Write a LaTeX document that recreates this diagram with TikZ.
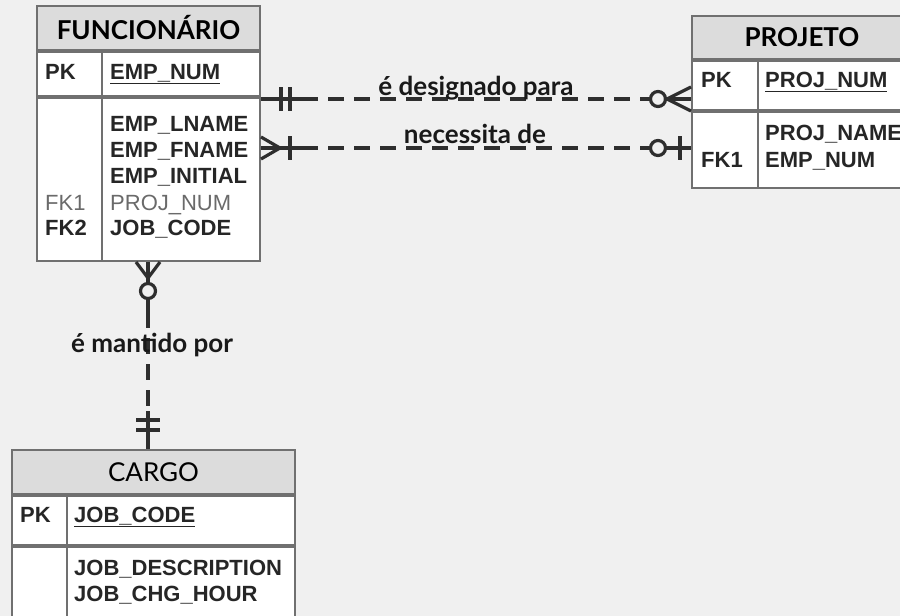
\documentclass[tikz,border=0pt]{standalone}
\usepackage{fontspec}
\setmainfont{Liberation Sans}
\newfontfamily\titlefont{Lato}
\usetikzlibrary{calc}

\definecolor{bggray}{HTML}{F0F0F0}
\definecolor{headgray}{HTML}{DCDCDC}
\definecolor{boxgray}{HTML}{707070}
\definecolor{linegray}{HTML}{2E2E2E}
\definecolor{fkgray}{HTML}{6A6A6A}

\tikzset{
  tabhead/.style={draw=boxgray, line width=2pt, fill=headgray, anchor=north west, inner sep=0pt,
    font=\titlefont\fontsize{26}{26}\selectfont},
  tabrow/.style={draw=boxgray, line width=2pt, fill=white, anchor=north west, inner sep=0pt},
  attr/.style={font=\bfseries\fontsize{22}{22}\selectfont, text=black!85, anchor=base west, inner sep=0pt},
  attrn/.style={font=\fontsize{22}{22}\selectfont, text=fkgray, anchor=base west, inner sep=0pt},
  rel/.style={draw=linegray, line width=3.6pt, dash pattern=on 16pt off 10pt},
  crow/.style={draw=linegray, line width=3.2pt},
  rlab/.style={font=\titlefont\bfseries\fontsize{26}{26}\selectfont, text=black!90, anchor=base, inner sep=0pt}
}

\begin{document}
\begin{tikzpicture}[x=1pt,y=-1pt]

  % Background
  \fill[bggray] (0,0) rectangle (900,616);
  \useasboundingbox (0,0) rectangle (900,616);
  \clip (0,0) rectangle (900,616);

  % FUNCIONARIO
  \node[tabhead, minimum width=223pt, minimum height=44pt] (fhead) at (36,5) {\bfseries FUNCIONÁRIO};
  \node[tabrow, minimum width=223pt, minimum height=44pt] (fpk) at (fhead.south west) {};
  \node[tabrow, minimum width=223pt, minimum height=163pt] (fbody) at (fpk.south west) {};
  \draw[boxgray, line width=2pt] (fpk.north -| 102,0) -- (fbody.south -| 102,0);
  \node[attr] (fpkkey) at (45,79) {PK};
  \node[attr] (fempnum) at (110,79) {\underline{EMP\_NUM}};
  \node[attr] (flname) at (110,131) {EMP\_LNAME};
  \node[attr] (ffname) at (110,157) {EMP\_FNAME};
  \node[attr] (finitial) at (110,183) {EMP\_INITIAL};
  \node[attrn] (fprojnum) at (110,210) {PROJ\_NUM};
  \node[attr] (fjobcode) at (110,235) {JOB\_CODE};
  \node[attrn] (ffk1) at (45,210) {FK1};
  \node[attr] (ffk2) at (45,235) {FK2};

  % PROJETO
  \node[tabhead, minimum width=220pt, minimum height=43pt] (phead) at (691,15) {\bfseries PROJETO};
  \node[tabrow, minimum width=220pt, minimum height=49pt] (ppk) at (phead.south west) {};
  \node[tabrow, minimum width=220pt, minimum height=76pt] (pbody) at (ppk.south west) {};
  \draw[boxgray, line width=2pt] (ppk.north -| 758,0) -- (pbody.south -| 758,0);
  \node[attr] (ppkkey) at (701,87) {PK};
  \node[attr] (pprojnum) at (765,87) {\underline{PROJ\_NUM}};
  \node[attr] (pprojname) at (765,140) {PROJ\_NAME};
  \node[attr] (pempnum) at (765,167) {EMP\_NUM};
  \node[attr] (pfk1) at (701,167) {FK1};

  % CARGO
  \node[tabhead, minimum width=283pt, minimum height=44pt] (chead) at (11,449) {CARGO};
  \node[tabrow, minimum width=283pt, minimum height=49pt] (cpk) at (chead.south west) {};
  \node[tabrow, minimum width=283pt, minimum height=100pt] (cbody) at (cpk.south west) {};
  \draw[boxgray, line width=2pt] (cpk.north -| 67,0) -- (cbody.south -| 67,0);
  \node[attr] (cpkkey) at (20,522) {PK};
  \node[attr] (cjobcode) at (74,522) {\underline{JOB\_CODE}};
  \node[attr] (cjobdesc) at (74,575) {JOB\_DESCRIPTION};
  \node[attr] (cjobhour) at (74,601) {JOB\_CHG\_HOUR};

  % e designado para
  \coordinate (d1l) at (fbody.east |- 0,99);
  \coordinate (d1r) at (ppk.west |- 0,99);
  \draw[crow] (d1l) -- ($(d1l)+(41,0)$);
  \draw[rel] ($(d1l)+(41,0)$) -- ($(d1r)+(-40,0)$);
  \draw[crow] ($(d1r)+(-42,0)$) -- (d1r);
  \draw[crow] ($(d1l)+(20,-12)$) -- ($(d1l)+(20,12)$);
  \draw[crow] ($(d1l)+(29,-12)$) -- ($(d1l)+(29,12)$);
  \draw[crow, fill=bggray] ($(d1r)+(-33,0)$) circle (7.5pt);
  \draw[crow] ($(d1r)+(0,-12)$) -- ($(d1r)+(-24,0)$) -- ($(d1r)+(0,12)$);
  \node[rlab] (ldesig) at (476,95) {é designado para};

  % necessita de
  \coordinate (d2l) at (fbody.east |- 0,148);
  \coordinate (d2r) at (pbody.west |- 0,148);
  \draw[crow] (d2l) -- ($(d2l)+(41,0)$);
  \draw[rel] ($(d2l)+(41,0)$) -- ($(d2r)+(-40,0)$);
  \draw[crow] ($(d2r)+(-42,0)$) -- (d2r);
  \draw[crow] ($(d2l)+(0,-11)$) -- ($(d2l)+(19,0)$) -- ($(d2l)+(0,11)$);
  \draw[crow] ($(d2l)+(29,-12)$) -- ($(d2l)+(29,12)$);
  \draw[crow, fill=bggray] ($(d2r)+(-33,0)$) circle (7.5pt);
  \draw[crow] ($(d2r)+(-11,-12)$) -- ($(d2r)+(-11,12)$);
  \node[rlab] (lnecess) at (475,143) {necessita de};

  % e mantido por
  \coordinate (m1) at (fbody.south -| 148,0);
  \coordinate (m2) at (chead.north -| 148,0);
  \draw[crow] (m1) -- ($(m1)+(0,50)$);
  \draw[rel] ($(m1)+(0,50)$) -- ($(m2)+(0,-36)$);
  \draw[crow] ($(m2)+(0,-38)$) -- (m2);
  \draw[crow] ($(m1)+(-12,0)$) -- ($(m1)+(0,16)$) -- ($(m1)+(12,0)$);
  \draw[crow, fill=bggray] ($(m1)+(0,29)$) circle (7.5pt);
  \draw[crow] ($(m2)+(-12,-29)$) -- ($(m2)+(12,-29)$);
  \draw[crow] ($(m2)+(-12,-19)$) -- ($(m2)+(12,-19)$);
  \node[rlab] (lmant) at (152,352) {é mantido por};

\end{tikzpicture}
\end{document}
